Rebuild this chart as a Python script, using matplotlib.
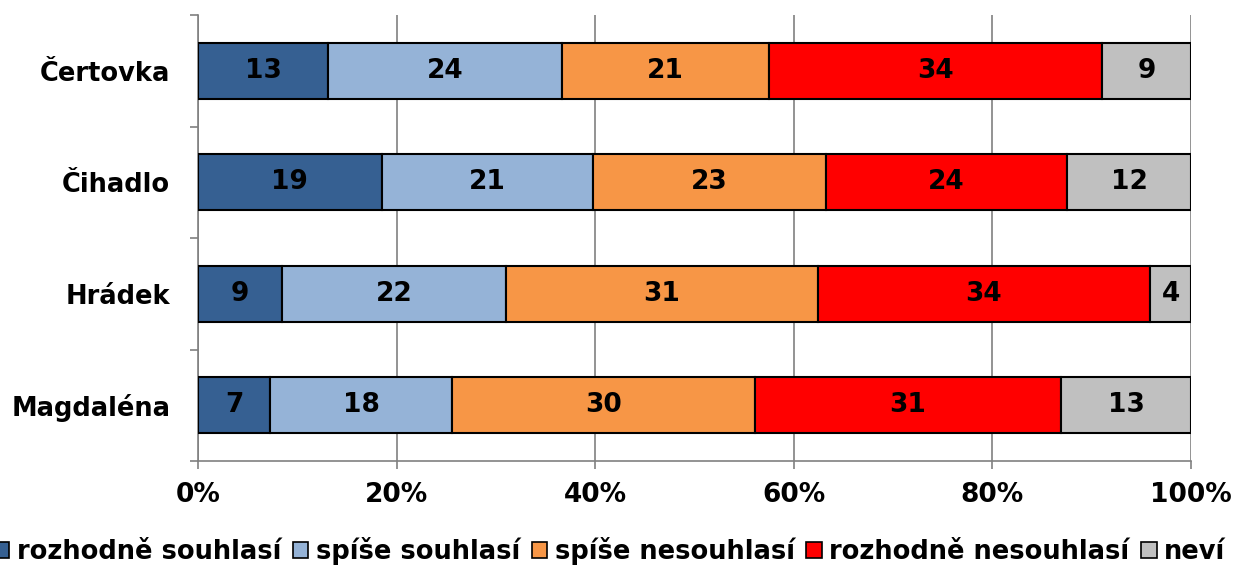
import numpy as np
import matplotlib
matplotlib.use("Agg")
from matplotlib import pyplot as plt
from matplotlib.patches import Patch

# data (shares in %, printed labels)
places = ["Čertovka", "Čihadlo", "Hrádek", "Magdaléna"]
answers = ["rozhodně souhlasí", "spíše souhlasí", "spíše nesouhlasí",
           "rozhodně nesouhlasí", "neví"]
shares = [
    [13.1, 23.6, 20.8, 33.5, 9.0],
    [18.5, 21.3, 23.4, 24.3, 12.5],
    [8.5, 22.5, 31.4, 33.5, 4.1],
    [7.3, 18.3, 30.5, 30.8, 13.1],
]
labels = [
    [13, 24, 21, 34, 9],
    [19, 21, 23, 24, 12],
    [9, 22, 31, 34, 4],
    [7, 18, 30, 31, 13],
]
colors = ["#366092", "#95B3D7", "#F79646", "#FF0000", "#C0C0C0"]

plt.rcParams["font.family"] = "DejaVu Sans"
plt.rcParams["font.weight"] = "bold"

fig = plt.figure(figsize=(12.39, 5.68), dpi=100)
ax = fig.add_axes([198 / 1239, 1 - 461 / 568, 993 / 1239, 446 / 568])

y = np.arange(len(places))
left = np.zeros(len(places))
for k in range(len(answers)):
    w = np.array([row[k] for row in shares])
    ax.barh(y, w, left=left, height=0.5, color=colors[k],
            edgecolor="black", linewidth=1.5, zorder=3)
    for i in range(len(places)):
        ax.text(left[i] + w[i] / 2, y[i], str(labels[i][k]),
                ha="center", va="center", fontsize=19, fontweight="bold",
                zorder=4)
    left += w

ax.set_xlim(0, 100)
ax.set_ylim(len(places) - 0.5, -0.5)
ax.set_xticks(np.arange(0, 101, 20))
ax.set_xticklabels([f"{v}%" for v in range(0, 101, 20)], fontsize=19,
                   fontweight="bold")
ax.set_yticks(y)
ax.set_yticklabels(places, fontsize=18.5, fontweight="bold")
ax.set_yticks(np.arange(-0.5, len(places)), minor=True)
ax.tick_params(axis="y", which="major", length=0, pad=20)
ax.tick_params(axis="y", which="minor", length=6, color="#808080", width=1.2)
ax.tick_params(axis="x", length=6, color="#808080", width=1.2, pad=9)
ax.grid(axis="x", color="#808080", linewidth=1.2, zorder=0)

for s in ["top", "right"]:
    ax.spines[s].set_visible(False)
for s in ["left", "bottom"]:
    ax.spines[s].set_color("#808080")
    ax.spines[s].set_linewidth(1.2)

handles = [Patch(facecolor=c, edgecolor="black", linewidth=1.2) for c in colors]
fig.legend(handles, answers, loc="center", bbox_to_anchor=(0.492, 0.03),
           ncol=5, frameon=False, prop={"weight": "bold", "size": 18.5},
           handlelength=0.6, handleheight=0.6, handletextpad=0.3,
           columnspacing=0.45)

fig.savefig("out.png", dpi=100)
